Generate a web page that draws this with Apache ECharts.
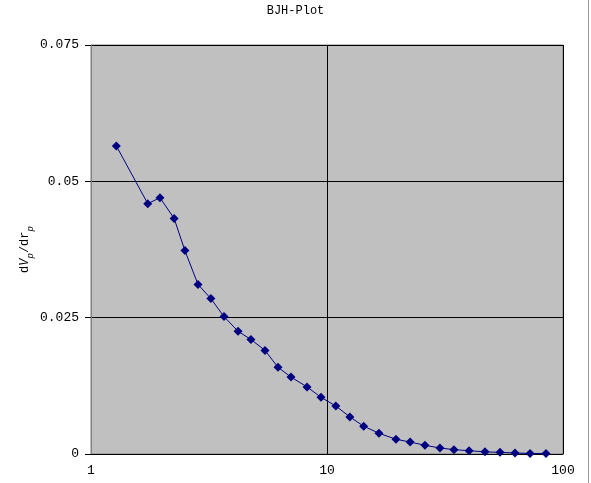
<!DOCTYPE html>
<html>
<head>
<meta charset="utf-8">
<script src="https://cdn.jsdelivr.net/npm/echarts@6/dist/echarts.min.js"></script>
<style>
  html, body { margin: 0; padding: 0; background: #fff; }
  #main { width: 591px; height: 483px; }
</style>
</head>
<body>
<div id="main"></div>
<script>
  // pore radius (x, log) and dV/dr (y)
  let poreR = [1.28, 1.74, 1.96, 2.25, 2.50, 2.84, 3.22, 3.66, 4.20, 4.76,
    5.46, 6.20, 7.04, 8.23, 9.43, 10.9, 12.5, 14.3, 16.6, 19.6,
    22.5, 26.0, 30.1, 34.5, 40.0, 46.7, 54.1, 62.6, 72.5, 84.7]
  let dVdr = [0.0565, 0.0459, 0.0470, 0.0432, 0.0373, 0.0311, 0.0285, 0.0252, 0.0225, 0.0210,
    0.0190, 0.0159, 0.0141, 0.0123, 0.0104, 0.0088, 0.0068, 0.0051, 0.0038, 0.0027,
    0.0022, 0.0016, 0.0011, 0.0008, 0.0006, 0.0004, 0.0003, 0.0002, 0.0001, 0.0001]
  let xTicks = [1, 10, 100]
  let yTicks = [0, 0.025, 0.05, 0.075]

  let font = '"Liberation Mono", "DejaVu Sans Mono", monospace'
  let chart = echarts.init(document.getElementById('main'))
  let points = poreR.map((r, i) => [r, dVdr[i]])

  let option = {
    animation: false,
    backgroundColor: '#fff',
    title: {
      text: 'BJH-Plot',
      left: 'center',
      top: 0,
      textStyle: { fontFamily: font, fontSize: 12, fontWeight: 'normal', color: '#000' }
    },
    grid: {
      left: 91, right: 28, top: 45, bottom: 29,
      show: true,
      backgroundColor: '#C0C0C0',
      borderColor: '#808080',
      borderWidth: 1
    },
    xAxis: {
      type: 'log',
      logBase: 10,
      min: xTicks[0],
      max: xTicks[xTicks.length - 1],
      axisLine: { show: true, lineStyle: { color: '#000', width: 1 } },
      axisTick: { show: false },
      minorTick: { show: false },
      splitLine: { show: true, lineStyle: { color: '#000', width: 1 } },
      axisLabel: { fontFamily: font, fontSize: 13, color: '#000', margin: 10 }
    },
    yAxis: {
      type: 'value',
      min: yTicks[0],
      max: yTicks[yTicks.length - 1],
      interval: 0.025,
      name: '{a|d}{i|V}{s|p}{a|/dr}{s|p}',
      nameLocation: 'middle',
      nameGap: 56,
      nameMoveOverlap: false,
      nameTextStyle: {
        rich: {
          a: { fontFamily: font, fontSize: 12, color: '#000', verticalAlign: 'top', lineHeight: 16 },
          i: { fontFamily: font, fontSize: 12, fontStyle: 'italic', color: '#000', verticalAlign: 'top', lineHeight: 16 },
          s: { fontFamily: font, fontSize: 9, fontStyle: 'italic', color: '#000', verticalAlign: 'bottom', lineHeight: 16, padding: [6, 0, 0, 0] }
        }
      },
      axisLine: { show: true, lineStyle: { color: '#808080', width: 1 } },
      axisTick: { show: true, length: 6, lineStyle: { color: '#000' } },
      splitLine: { show: true, lineStyle: { color: '#000', width: 1 } },
      axisLabel: { fontFamily: font, fontSize: 13, color: '#000', margin: 12 }
    },
    series: [{
      type: 'line',
      data: points,
      symbol: 'diamond',
      symbolSize: 9,
      showAllSymbol: true,
      lineStyle: { color: '#000080', width: 1 },
      itemStyle: { color: '#000080' }
    }],
    graphic: [{
      type: 'line',
      shape: { x1: 588.5, y1: 0, x2: 588.5, y2: 483 },
      style: { stroke: '#999', lineWidth: 1 }
    }]
  }
  chart.setOption(option)
</script>
</body>
</html>
